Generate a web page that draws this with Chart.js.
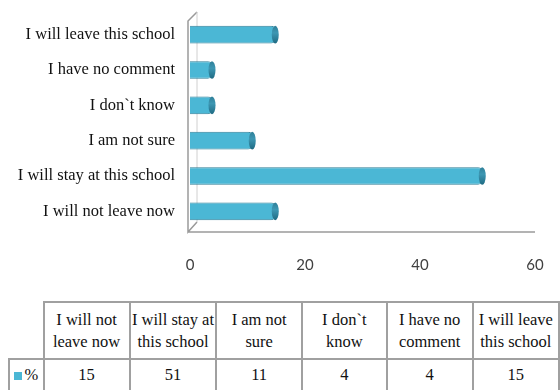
<!DOCTYPE html>
<html>
<head>
<meta charset="utf-8">
<script src="https://cdn.jsdelivr.net/npm/chart.js@4.4.1/dist/chart.umd.min.js"></script>
<style>
  body { margin:0; background:#fff; width:560px; height:390px; overflow:hidden; position:relative;
         font-family:'Liberation Serif', serif; }
  #wrap { position:absolute; left:0; top:0; width:560px; height:290px; }
  table { position:absolute; left:8px; top:301px; border-collapse:collapse; table-layout:fixed;
          font-family:'Liberation Serif', serif; font-size:16.5px; color:#111; }
  td { border:2px solid #a0a0a0; text-align:center; padding:0; line-height:22px; white-space:nowrap; }
  td.blank { border-top:none; border-left:none; }
  .sw { display:inline-block; width:8px; height:8px; background:#4bb7d5; margin-right:2px; }
</style>
</head>
<body>
<div id="wrap"><canvas id="c"></canvas></div>
<table id="tbl"></table>
<script>
// categories, top-to-bottom as plotted
const categories = ["I will leave this school", "I have no comment", "I don`t know", "I am not sure", "I will stay at this school", "I will not leave now"];
const percent = [15, 4, 4, 11, 51, 15];
// table columns (reverse order, as in the data table)
const tableHeads = [["I will not", "leave now"], ["I will stay at", "this school"], ["I am not", "sure"], ["I don`t", "know"], ["I have no", "comment"], ["I will leave", "this school"]];
const xTicks = [0, 20, 40, 60];

const SERIF = "'Liberation Serif', serif";

// ----------------- table -----------------
const tbl = document.getElementById("tbl");
const colW = [35, 87, 87, 87, 87, 87, 87];
let head = '<colgroup>' + colW.map(w => '<col style="width:' + w + 'px">').join('') + '</colgroup>';
head += '<tr style="height:57px"><td class="blank"></td>' + tableHeads.map(h => '<td>' + h[0] + '<br>' + h[1] + '</td>').join('') + '</tr>';
const rev = percent.slice().reverse();
head += '<tr style="height:32px"><td><span class="sw"></span>%</td>' + rev.map(v => '<td>' + v + '</td>').join('') + '</tr>';
tbl.innerHTML = head;

// ----------------- bars -----------------
function barFill(ctx) {
  const el = ctx.element;
  const c = ctx.chart.ctx;
  if (!el || el.y === undefined) return '#4bb7d5';
  const h = el.height || 17;
  const g = c.createLinearGradient(0, el.y - h/2, 0, el.y + h/2);
  g.addColorStop(0, '#3a9dbb');
  g.addColorStop(0.12, '#8fd8ec');
  g.addColorStop(0.35, '#5cc3df');
  g.addColorStop(0.75, '#45b0cf');
  g.addColorStop(1, '#2b86a4');
  return g;
}

const wallPlugin = {
  id: 'wall',
  beforeDatasetsDraw(chart) {
    const a = chart.chartArea, c = chart.ctx;
    const x0 = a.left - 2, floor = a.bottom + 3;
    c.save();
    c.strokeStyle = '#9a9a9a';
    c.lineWidth = 1.5;
    c.beginPath();
    c.moveTo(x0 + 9, a.top - 5);
    c.lineTo(x0, a.top + 4);
    c.lineTo(x0, floor);
    c.lineTo(x0 + 9, floor - 10);
    c.moveTo(x0, floor);
    c.lineTo(a.right, floor);
    c.stroke();
    c.strokeStyle = '#d0d0d0';
    c.lineWidth = 1;
    c.beginPath();
    c.moveTo(x0 + 9, a.top - 5);
    c.lineTo(x0 + 9, floor - 10);
    c.stroke();
    c.restore();
  },
  afterDatasetsDraw(chart) {
    const c = chart.ctx;
    chart.getDatasetMeta(0).data.forEach(b => {
      const h = b.height;
      const g = c.createLinearGradient(0, b.y - h/2, 0, b.y + h/2);
      g.addColorStop(0, '#2f7f98');
      g.addColorStop(0.4, '#3d97b3');
      g.addColorStop(1, '#1f6a82');
      c.save();
      c.fillStyle = g;
      c.beginPath();
      c.ellipse(b.x - 1, b.y, 3.5, h/2, 0, 0, Math.PI*2);
      c.fill();
      c.restore();
    });
  }
};

function draw() {
  new Chart(document.getElementById("c"), {
    type: 'bar',
    data: {
      labels: categories,
      datasets: [{
        label: '%',
        data: percent,
        backgroundColor: barFill,
        borderColor: '#2f7f98',
        borderWidth: 1,
        borderSkipped: 'left',
        borderRadius: { topRight: 5, bottomRight: 5 },
        barPercentage: 1,
        categoryPercentage: 0.5
      }]
    },
    options: {
      indexAxis: 'y',
      responsive: true,
      maintainAspectRatio: false,
      animation: false,
      layout: { padding: { top: 17, right: 25, left: 0, bottom: 0 } },
      plugins: { legend: { display: false }, tooltip: { enabled: false } },
      scales: {
        x: {
          min: 0, max: 60,
          afterBuildTicks: s => { s.ticks = xTicks.map(v => ({ value: v })); },
          afterFit: s => { s.height = 61; s.paddingLeft = 0; s.paddingRight = 0; },
          grid: { display: false },
          border: { display: false },
          ticks: { padding: 19, color: '#404040', font: { family: 'Lato', size: 15 } }
        },
        y: {
          afterFit: s => { s.width = 190; s.paddingTop = 0; s.paddingBottom = 0; },
          grid: { display: false },
          border: { display: false },
          ticks: { padding: 7, color: '#111', font: { family: SERIF, size: 16.5 } }
        }
      }
    },
    plugins: [wallPlugin]
  });
}

if (document.fonts && document.fonts.load) {
  document.fonts.load("16.5px 'Liberation Serif'").then(draw, draw);
} else {
  draw();
}
</script>
</body>
</html>
